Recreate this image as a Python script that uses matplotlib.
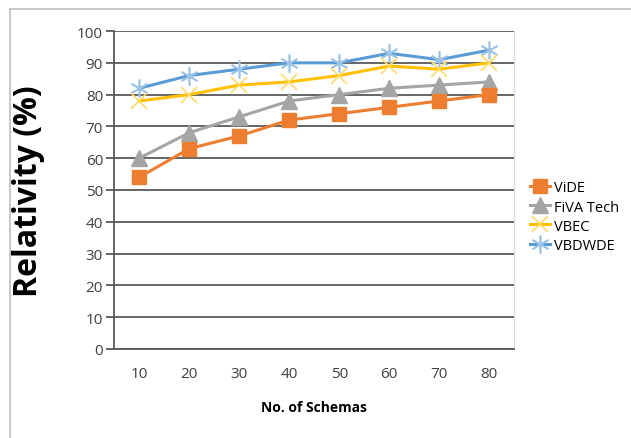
import matplotlib.pyplot as plt
from matplotlib.lines import Line2D

schemas = ["10", "20", "30", "40", "50", "60", "70", "80"]
vide = [54, 63, 67, 72, 74, 76, 78, 80]
fiva = [60, 68, 73, 78, 80, 82, 83, 84]
vbec = [78, 80, 83, 84, 86, 89, 88, 90]
vbdwde = [82, 86, 88, 90, 90, 93, 91, 94]

plt.rcParams['font.family'] = ['Open Sans', 'DejaVu Sans']

fig = plt.figure(figsize=(6.31, 4.39), dpi=100)
ax = fig.add_axes([0.181, 0.203, 0.634, 0.724])

x = list(range(len(schemas)))
ax.plot(x, vbdwde, color='#5B9BD5', lw=2.2, marker=(6, 2, 0), ms=13,
        mec='#9DC3E6', mew=1.2, label='VBDWDE', zorder=3)
ax.plot(x, vbec, color='#FFC000', lw=2.2, marker='x', ms=12,
        mec='#FFD966', mew=1.2, label='VBEC', zorder=3)
ax.plot(x, fiva, color='#A5A5A5', lw=2.2, marker='^', ms=11,
        mfc='#A5A5A5', mec='#A5A5A5', label='FiVA Tech', zorder=4)
ax.plot(x, vide, color='#ED7D31', lw=2.2, marker='s', ms=10,
        mfc='#ED7D31', mec='#ED7D31', label='ViDE', zorder=5)

ax.set_xlim(-0.5, len(schemas) - 0.5)
ax.set_ylim(0, 100)
ax.set_yticks(range(0, 101, 10))
ax.set_xticks(x)
ax.set_xticklabels(schemas)
ax.yaxis.grid(True, color='#595959', lw=1.3)
ax.set_axisbelow(True)

ax.spines['top'].set_visible(False)
ax.spines['right'].set_color('#d9d9d9')
ax.spines['left'].set_color('#595959')
ax.spines['left'].set_linewidth(1.3)
ax.spines['bottom'].set_color('#595959')
ax.spines['bottom'].set_linewidth(1.3)
ax.tick_params(axis='y', length=6, width=1.3, color='#595959',
               labelsize=11, labelcolor='#404040', pad=2)
ax.tick_params(axis='x', length=0, labelsize=11, labelcolor='#404040', pad=12)

ax.set_ylabel('Relativity (%)', fontsize=23, fontweight='bold', labelpad=23)
ax.set_xlabel('No. of Schemas', fontsize=10, fontweight='bold', labelpad=14)

handles = [
    Line2D([], [], color='#ED7D31', lw=2.2, marker='s', ms=10, mfc='#ED7D31', mec='#ED7D31'),
    Line2D([], [], color='#A5A5A5', lw=2.2, marker='^', ms=11, mfc='#A5A5A5', mec='#A5A5A5'),
    Line2D([], [], color='#FFC000', lw=2.2, marker='x', ms=12, mec='#FFD966', mew=1.2),
    Line2D([], [], color='#5B9BD5', lw=2.2, marker=(6, 2, 0), ms=13, mec='#9DC3E6', mew=1.2),
]
fig.legend(handles, ['ViDE', 'FiVA Tech', 'VBEC', 'VBDWDE'],
           loc='upper left', bbox_to_anchor=(0.83, 0.6), frameon=False,
           fontsize=10.5, handlelength=1.4, handletextpad=0.3,
           labelspacing=0.28, borderaxespad=0)

# chart area frame (left and top edges)
fig.add_artist(Line2D([0.016, 0.016], [0.0, 0.977], color='#bfbfbf', lw=1.2))
fig.add_artist(Line2D([0.016, 1.0], [0.977, 0.977], color='#bfbfbf', lw=1.2))

fig.savefig('out.png', dpi=100)
